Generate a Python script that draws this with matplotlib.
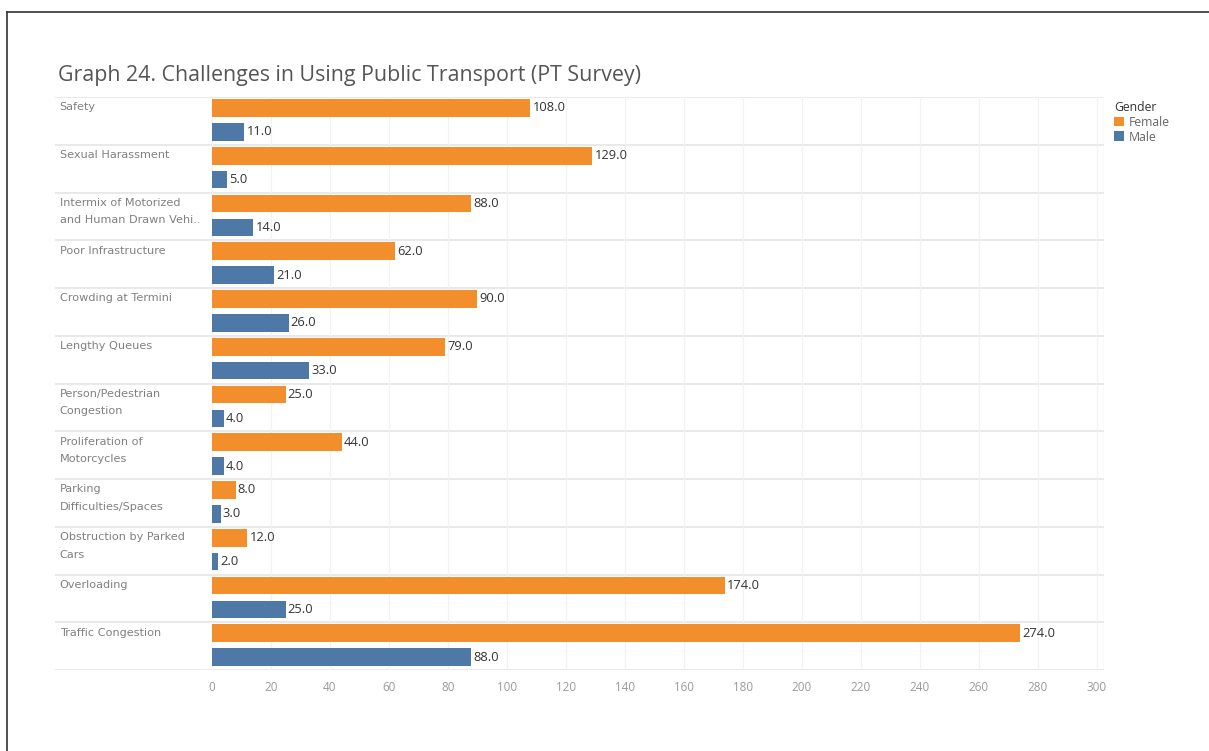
import matplotlib
matplotlib.use("Agg")
import matplotlib.pyplot as plt
from matplotlib.lines import Line2D
from matplotlib.patches import Patch
import matplotlib.transforms as mtransforms

categories = [
    "Safety",
    "Sexual Harassment",
    "Intermix of Motorized\nand Human Drawn Vehi..",
    "Poor Infrastructure",
    "Crowding at Termini",
    "Lengthy Queues",
    "Person/Pedestrian\nCongestion",
    "Proliferation of\nMotorcycles",
    "Parking\nDifficulties/Spaces",
    "Obstruction by Parked\nCars",
    "Overloading",
    "Traffic Congestion",
]
female = [108, 129, 88, 62, 90, 79, 25, 44, 8, 12, 174, 274]
male = [11, 5, 14, 21, 26, 33, 4, 4, 3, 2, 25, 88]
xticks = list(range(0, 301, 20))
title = "Graph 24. Challenges in Using Public Transport (PT Survey)"

C_F = "#F28E2B"
C_M = "#4E79A7"
FONT = ["Open Sans", "DejaVu Sans"]
plt.rcParams["font.family"] = FONT

W, H = 1209, 751
fig = plt.figure(figsize=(W / 100, H / 100), dpi=100)

def fx(px):
    return px / W

def fy(py):
    return 1 - py / H

top, bot = 97, 670
ax = fig.add_axes([fx(212), fy(bot), fx(1104) - fx(212), fy(top) - fy(bot)])
axl = fig.add_axes([fx(55), fy(bot), fx(212) - fx(55), fy(top) - fy(bot)], sharey=ax)

n = len(categories)
ys = list(range(n))
yf = [y - 0.27 for y in ys]
ym = [y + 0.23 for y in ys]
bh = 0.37
ax.barh(yf, female, height=bh, color=C_F, edgecolor="none")
ax.barh(ym, male, height=bh, color=C_M, edgecolor="none")

for y, v in zip(yf, female):
    ax.annotate(f"{v:.1f}", (v, y), xytext=(1.5, 0), textcoords="offset points",
                va="center", ha="left", fontsize=9.3, color="#333333")
for y, v in zip(ym, male):
    ax.annotate(f"{v:.1f}", (v, y), xytext=(1.5, 0), textcoords="offset points",
                va="center", ha="left", fontsize=9.3, color="#333333")

ax.set_xlim(0, 302.5)
ax.set_ylim(n - 0.5, -0.5)
ax.set_xticks(xticks)
ax.set_xticklabels([str(t) for t in xticks])
ax.tick_params(axis="x", length=0, labelsize=8.4, labelcolor="#9a9a9a", pad=8)
ax.tick_params(axis="y", left=False, labelleft=False)
for s in ax.spines.values():
    s.set_visible(False)
ax.axvline(302.5, color="#e6e6e6", lw=1)
ax.grid(axis="x", color="#f2f2f2", lw=0.9)
ax.set_axisbelow(True)

bounds = [y - 0.5 for y in ys] + [n - 0.5]
for b in bounds:
    ax.axhline(b, color="#e3e3e3", lw=1.1, zorder=0.5)
    axl.axhline(b, color="#e3e3e3", lw=1.1, zorder=0.5)

axl.set_xlim(0, 1)
axl.axis("off")
tr = mtransforms.blended_transform_factory(axl.transAxes, axl.transData)
for y, lab in zip(ys, categories):
    axl.text(0.03, y - 0.5 + 0.11, lab, transform=tr, va="top", ha="left",
             fontsize=8.1, color="#808080", linespacing=1.95, family="DejaVu Sans")

fig.text(fx(58), fy(75), title, fontsize=15.4, color="#555555", va="center", ha="left")

handles = [Patch(facecolor=C_F, edgecolor="none"), Patch(facecolor=C_M, edgecolor="none")]
leg = fig.legend(handles, ["Female", "Male"], title="Gender", loc="upper left",
                 bbox_to_anchor=(fx(1109), fy(96)), frameon=False, fontsize=8.8,
                 title_fontsize=8.8, handlelength=0.85, handleheight=0.85,
                 handletextpad=0.35, labelspacing=0.15, borderaxespad=0)
leg._legend_box.align = "left"
for t in leg.get_texts():
    t.set_color("#666666")
leg.get_title().set_color("#333333")

fig.add_artist(Line2D([fx(7), 1], [fy(12), fy(12)], color="#333333", lw=1.2))
fig.add_artist(Line2D([fx(7), fx(7)], [fy(12), 0], color="#333333", lw=1.2))

fig.savefig("out.png", dpi=100, facecolor="white")
